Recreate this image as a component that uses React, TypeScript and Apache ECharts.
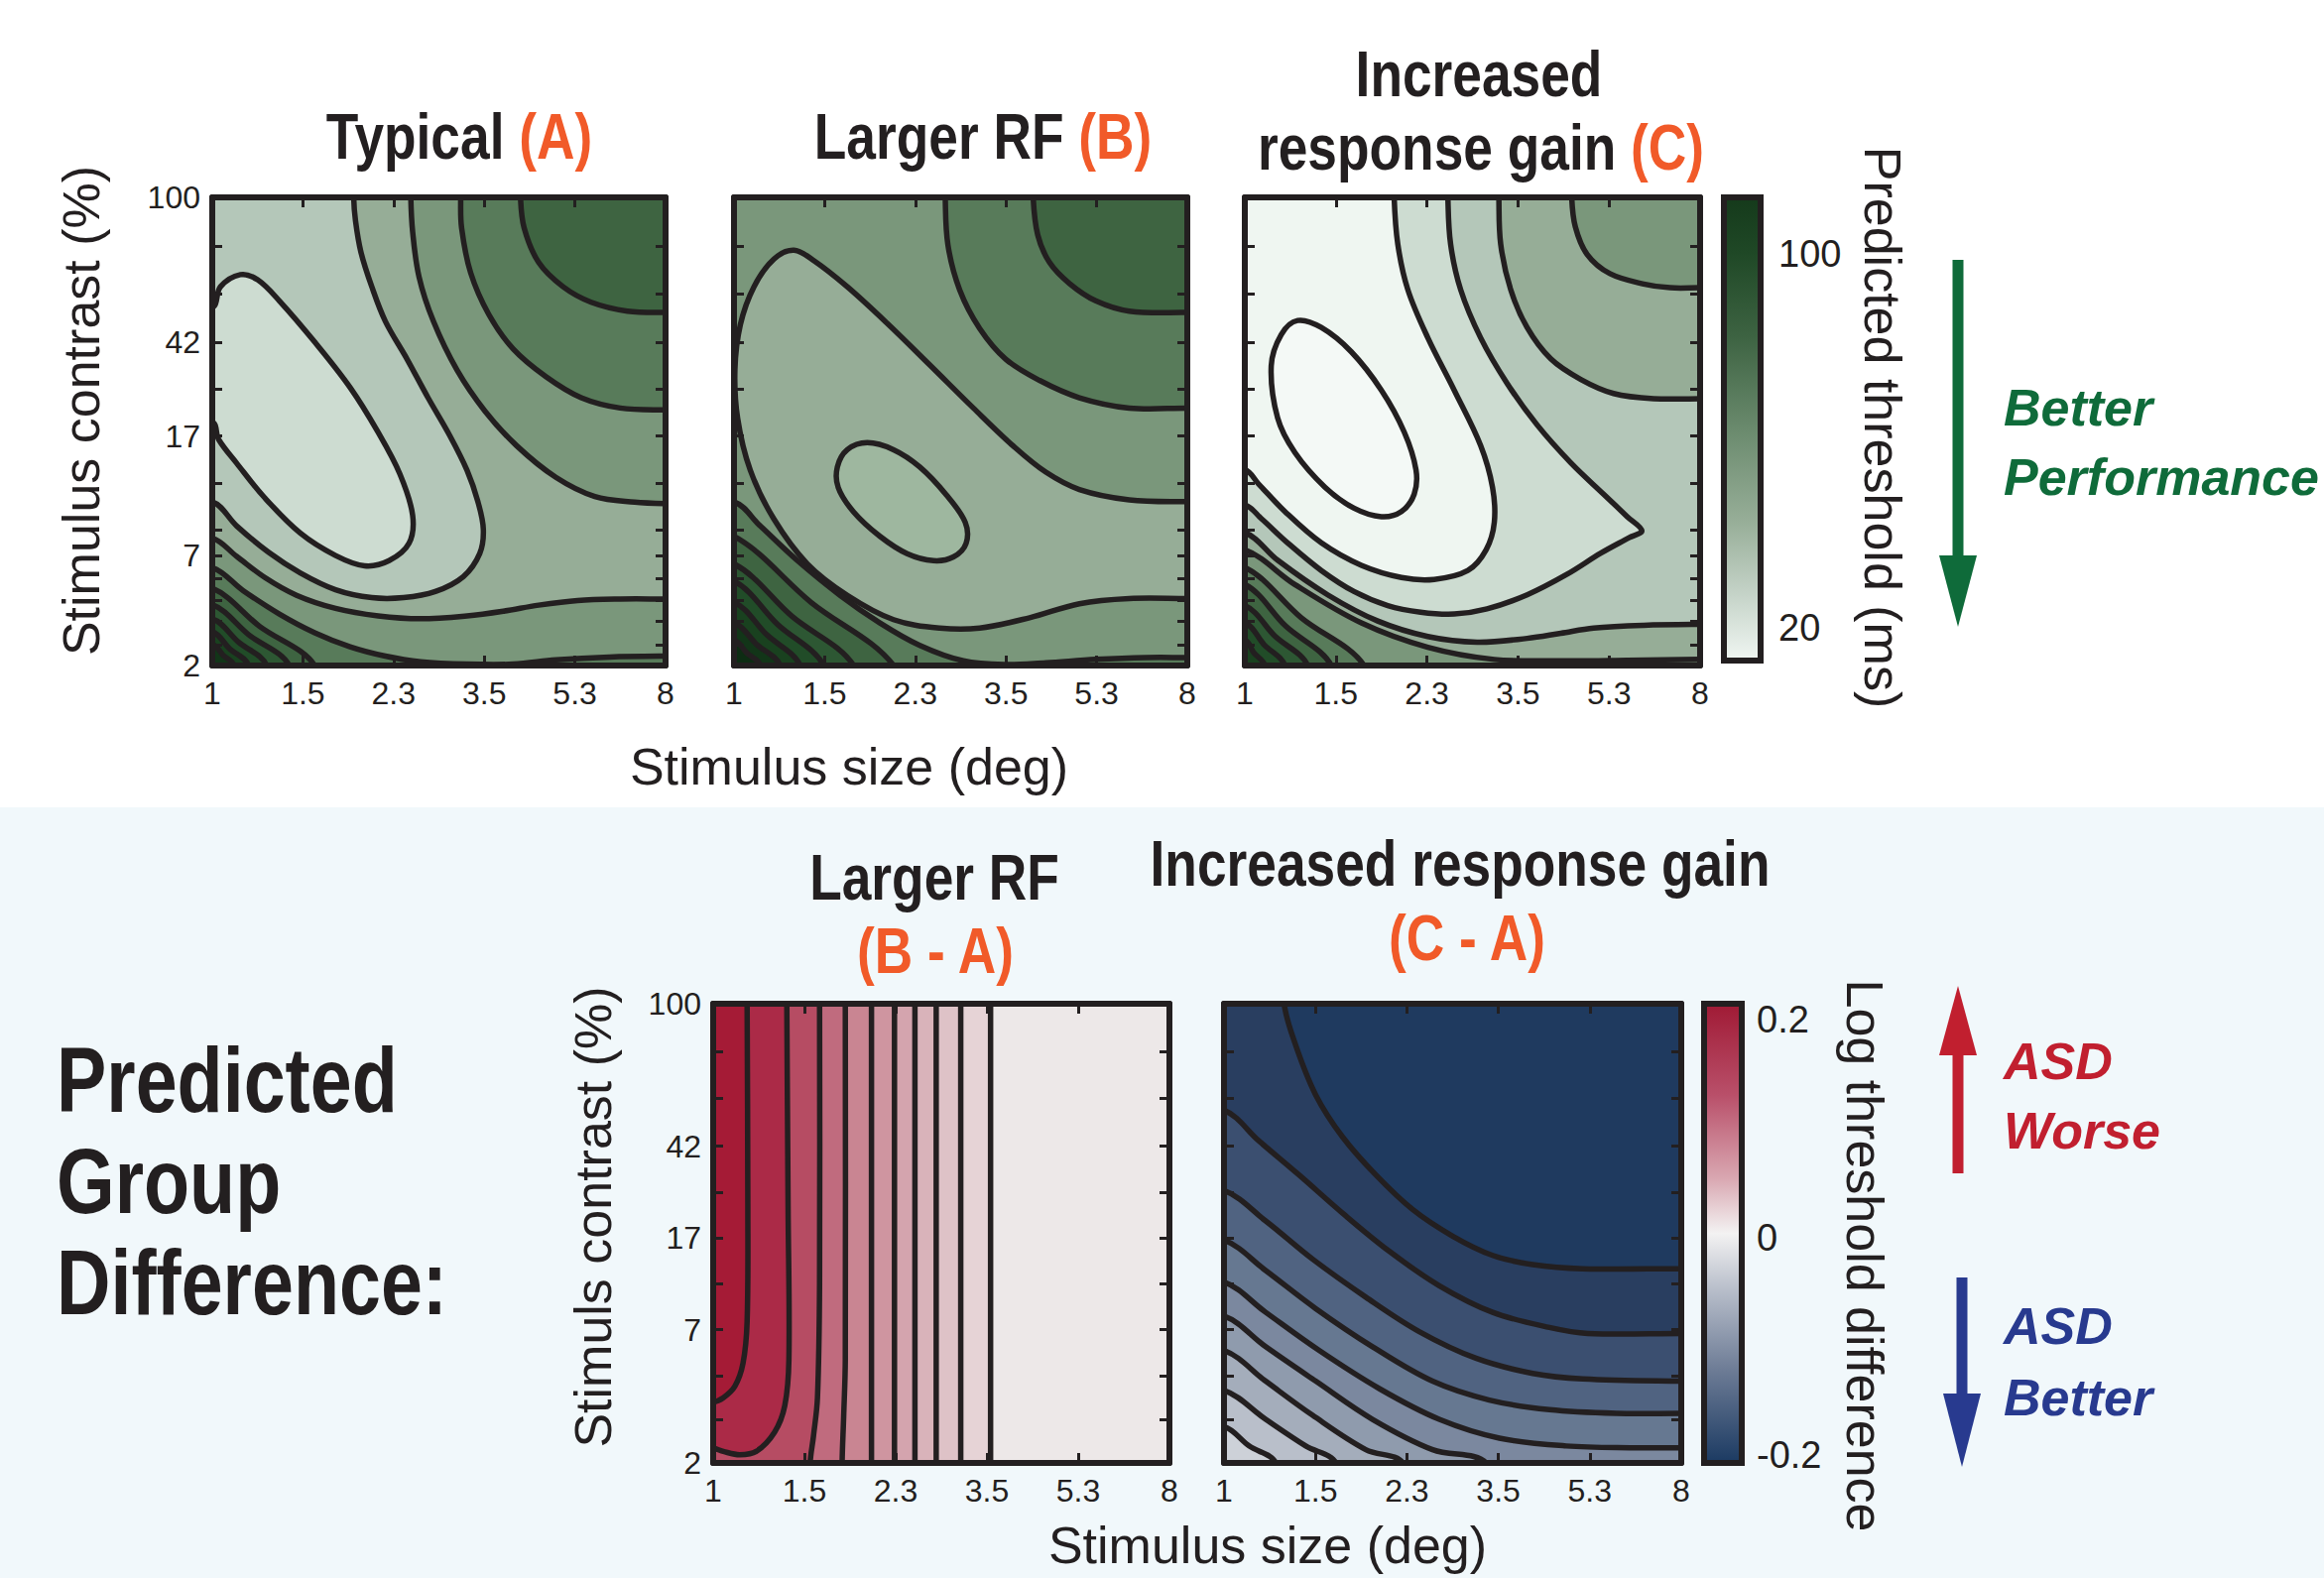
import React, { useEffect, useRef } from 'react';
import * as echarts from 'echarts';

// ---------------- data ----------------
// x axis: stimulus size, 6 log-spaced ticks (position 0..5)
const sizeTickLabels = ['1', '1.5', '2.3', '3.5', '5.3', '8'];
// y axis: stimulus contrast (axis position 0..10)
const contrastTickLabels = ['2', '7', '17', '42', '100'];
const contrastTickPosTop = [0, 2.35, 4.9, 6.9, 10];
const contrastTickPosBottom = [0, 2.9, 4.9, 6.9, 10];
const contrastMinorTop = [0.45, 0.95, 1.4, 1.85, 2.35, 2.9, 3.9, 4.9, 5.9, 6.9, 7.95, 8.95];
const contrastMinorBottom = [0.95, 1.9, 2.9, 3.9, 4.9, 5.9, 6.9, 7.95, 8.95];
const thresholdTicks = [20, 100];
const thresholdRange = [13, 112];
const diffTicks = [-0.2, 0, 0.2];
const diffRange = [-0.207, 0.215];

// Panel A: Typical — contour lines [size position, contrast position]
const typA_inner = [[0, 7.65], [0.09, 8.09], [0.31, 8.35], [0.5, 8.24], [0.74, 7.79], [1.13, 6.91], [1.52, 5.94], [1.83, 4.98], [2.07, 4.09], [2.21, 3.21], [2.17, 2.61], [1.95, 2.24], [1.68, 2.13], [1.36, 2.35], [0.97, 2.83], [0.58, 3.58], [0.27, 4.32], [0.07, 4.83], [0, 5.2]];
const typA_c2 = [[0, 3.5], [0.27, 2.98], [0.62, 2.42], [0.97, 1.98], [1.36, 1.62], [1.76, 1.45], [2.11, 1.45], [2.46, 1.58], [2.77, 1.9], [2.95, 2.39], [2.99, 2.91], [2.93, 3.5], [2.81, 4.17], [2.62, 4.91], [2.38, 5.72], [2.15, 6.54], [1.91, 7.35], [1.76, 8.09], [1.64, 8.83], [1.58, 9.5], [1.56, 10]];
const typA_c3 = [[2.19, 10], [2.21, 9.27], [2.28, 8.31], [2.44, 7.35], [2.7, 6.31], [3.01, 5.43], [3.36, 4.69], [3.79, 4.02], [4.22, 3.61], [4.66, 3.49], [5, 3.46]];
const typA_c4 = [[2.74, 10], [2.75, 9.35], [2.85, 8.39], [3.05, 7.5], [3.32, 6.76], [3.68, 6.17], [4.07, 5.72], [4.5, 5.5], [5, 5.46]];
const typA_c5 = [[3.4, 10], [3.44, 9.35], [3.6, 8.61], [3.87, 8.09], [4.18, 7.76], [4.58, 7.57], [5, 7.54]];
const typA_c6 = [[0, 2.72], [0.27, 2.33], [0.58, 1.88], [0.93, 1.5], [1.36, 1.22], [1.83, 1.06], [2.3, 1.0], [2.81, 1.06], [3.21, 1.16], [3.6, 1.29], [4.03, 1.39], [4.5, 1.42], [5, 1.42]];
const typA_c7 = [[0, 2.09], [0.34, 1.6], [0.74, 1.1], [1.13, 0.7], [1.52, 0.4], [1.91, 0.2], [2.3, 0.08], [2.81, 0.03], [3.32, 0.03], [3.79, 0.12], [4.38, 0.18], [5, 0.2]];
const typA_k1 = [[0, 1.65], [0.52, 0.84], [1.13, 0]];
const typA_k2 = [[0, 1.3], [0.4, 0.66], [0.85, 0]];
const typA_k3 = [[0, 1.0], [0.29, 0.5], [0.6, 0]];
const typA_k4 = [[0, 0.72], [0.19, 0.36], [0.4, 0]];
const typA_k5 = [[0, 0.45], [0.12, 0.22], [0.24, 0]];

// Panel B: Larger RF
const rfB_c1 = [[3.3, 10], [3.35, 9.2], [3.48, 8.61], [3.7, 8.16], [3.99, 7.79], [4.36, 7.57], [5, 7.54]];
const rfB_c2 = [[2.33, 10], [2.36, 8.98], [2.49, 8.02], [2.71, 7.2], [3.0, 6.54], [3.37, 6.09], [3.81, 5.72], [4.36, 5.5], [5, 5.5]];
const rfB_c3 = [[5, 3.5], [4.36, 3.54], [3.81, 3.76], [3.44, 4.13], [3.08, 4.69], [2.64, 5.5], [2.16, 6.42], [1.69, 7.31], [1.25, 8.09], [0.88, 8.65], [0.66, 8.87], [0.44, 8.68], [0.22, 8.09], [0.07, 7.28], [0.01, 6.32], [0.04, 5.28], [0.18, 4.17], [0.44, 3.13], [0.81, 2.17], [1.25, 1.5], [1.76, 0.98], [2.27, 0.8], [2.71, 0.8], [3.26, 1.02], [3.81, 1.32], [4.36, 1.43], [5, 1.43]];
const rfB_loop = [[1.14, 4.24], [1.25, 4.61], [1.47, 4.76], [1.76, 4.61], [2.05, 4.24], [2.34, 3.65], [2.55, 3.06], [2.56, 2.61], [2.42, 2.32], [2.2, 2.24], [1.91, 2.39], [1.61, 2.76], [1.32, 3.28], [1.15, 3.8]];
const rfB_c5 = [[0, 3.5], [0.29, 2.98], [0.7, 2.24], [1.17, 1.5], [1.61, 0.91], [2.05, 0.43], [2.53, 0.1], [3.0, 0.02], [3.44, 0.06], [3.99, 0.13], [4.54, 0.17], [5, 0.17]];
const rfB_k1 = [[0, 2.76], [0.85, 1.35], [1.76, 0]];
const rfB_k2 = [[0, 2.17], [0.64, 1.05], [1.32, 0]];
const rfB_k3 = [[0, 1.8], [0.48, 0.88], [0.99, 0]];
const rfB_k4 = [[0, 1.35], [0.36, 0.66], [0.73, 0]];
const rfB_k5 = [[0, 0.91], [0.25, 0.45], [0.51, 0]];
const rfB_k6 = [[0, 0.54], [0.14, 0.27], [0.29, 0]];

// Panel C: Increased response gain
const gainC_loop = [[0.29, 6.4], [0.4, 7.07], [0.58, 7.37], [0.84, 7.22], [1.17, 6.7], [1.5, 5.88], [1.75, 4.99], [1.88, 4.18], [1.86, 3.66], [1.72, 3.29], [1.5, 3.18], [1.2, 3.36], [0.88, 3.81], [0.55, 4.55], [0.36, 5.29]];
const gainC_c4 = [[1.64, 10], [1.68, 9.0], [1.79, 8.03], [2.01, 7.0], [2.3, 5.88], [2.59, 4.7], [2.72, 3.81], [2.74, 3.06], [2.65, 2.47], [2.45, 2.03], [2.08, 1.84], [1.72, 1.88], [1.28, 2.14], [0.84, 2.62], [0.44, 3.29], [0.15, 3.88], [0, 4.18]];
const gainC_c3 = [[2.23, 10], [2.26, 9.0], [2.37, 8.03], [2.59, 7.0], [2.88, 6.03], [3.21, 5.14], [3.58, 4.33], [3.94, 3.66], [4.2, 3.18], [4.36, 2.88], [4.22, 2.73], [3.91, 2.4], [3.54, 1.95], [3.1, 1.51], [2.66, 1.21], [2.3, 1.1], [1.93, 1.14], [1.57, 1.28], [1.2, 1.58], [0.84, 2.03], [0.47, 2.62], [0.18, 3.14], [0, 3.43]];
const gainC_c2 = [[2.79, 10], [2.81, 9.0], [2.92, 8.03], [3.1, 7.22], [3.36, 6.55], [3.69, 6.11], [4.05, 5.81], [4.49, 5.7], [5, 5.7]];
const gainC_c1 = [[3.59, 10], [3.63, 9.37], [3.76, 8.78], [4.01, 8.37], [4.38, 8.15], [4.67, 8.07], [5, 8.07]];
const gainC_c6 = [[0, 2.84], [0.36, 2.25], [0.91, 1.51], [1.46, 0.95], [2.01, 0.62], [2.55, 0.5], [3.1, 0.58], [3.47, 0.69], [3.83, 0.8], [4.38, 0.86], [5, 0.88]];
const gainC_c7 = [[0, 2.47], [0.55, 1.73], [1.28, 0.91], [2.01, 0.39], [2.74, 0.13], [3.47, 0.1], [4.2, 0.11], [5, 0.13]];
const gainC_k1 = [[0, 2.1], [0.62, 1.02], [1.31, 0]];
const gainC_k2 = [[0, 1.73], [0.45, 0.84], [0.95, 0]];
const gainC_k3 = [[0, 1.28], [0.33, 0.63], [0.69, 0]];
const gainC_k4 = [[0, 0.91], [0.21, 0.45], [0.44, 0]];
const gainC_k5 = [[0, 0.54], [0.1, 0.27], [0.22, 0]];

// Difference B - A
const diffB_c1 = [[0.372, 10], [0.38, 5.58], [0.372, 3.08], [0.327, 2.17], [0.238, 1.67], [0.112, 1.42], [0, 1.33]];
const diffB_c2 = [[0.807, 10], [0.821, 5.58], [0.83, 2.25], [0.785, 1.25], [0.673, 0.67], [0.471, 0.25], [0.291, 0.18], [0.112, 0.25], [0, 0.32]];
const diffB_c3 = [[1.166, 10], [1.166, 3.92], [1.143, 1.42], [1.099, 0.58], [1.063, 0]];
const diffB_c4 = [[1.448, 10], [1.448, 2.25], [1.43, 1.0], [1.413, 0]];
const diffB_c5 = [[1.735, 10], [1.735, 5], [1.735, 0]];
const diffB_c6 = [[1.987, 10], [1.987, 5], [1.987, 0]];
const diffB_c7 = [[2.211, 10], [2.211, 5], [2.211, 0]];
const diffB_c8 = [[2.444, 10], [2.444, 5], [2.444, 0]];
const diffB_c9 = [[2.713, 10], [2.713, 5], [2.713, 0]];
const diffB_c10 = [[3.04, 10], [3.04, 5], [3.04, 0]];

// Difference C - A
const diffC_c1 = [[0.657, 10], [0.785, 9.09], [1.004, 8.01], [1.296, 7.1], [1.661, 6.27], [2.062, 5.52], [2.5, 4.94], [2.938, 4.52], [3.376, 4.32], [3.923, 4.23], [5, 4.23]];
const diffC_c2 = [[0, 7.68], [0.383, 7.01], [0.821, 6.27], [1.296, 5.44], [1.807, 4.61], [2.354, 3.86], [2.938, 3.28], [3.558, 2.95], [3.978, 2.82], [5, 2.82]];
const diffC_c3 = [[0, 5.93], [0.456, 5.27], [0.967, 4.44], [1.551, 3.61], [2.135, 2.86], [2.755, 2.28], [3.376, 1.95], [3.923, 1.83], [5, 1.78]];
const diffC_c4 = [[0, 4.85], [0.456, 4.19], [1.004, 3.36], [1.624, 2.53], [2.281, 1.78], [2.901, 1.37], [3.558, 1.16], [4.288, 1.08], [5, 1.08]];
const diffC_c5 = [[0, 3.94], [0.456, 3.28], [1.04, 2.45], [1.697, 1.62], [2.354, 0.95], [3.011, 0.54], [3.741, 0.37], [4.471, 0.33], [5, 0.33]];
const diffC_c6 = [[0, 3.2], [0.456, 2.53], [1.004, 1.78], [1.624, 0.95], [2.281, 0.29], [2.865, 0]];
const diffC_c7 = [[0, 2.45], [0.456, 1.78], [0.967, 1.04], [1.551, 0.29], [1.953, 0]];
const diffC_c8 = [[0, 1.58], [0.456, 0.95], [0.894, 0.37], [1.223, 0]];
const diffC_c9 = [[0, 0.79], [0.274, 0.37], [0.566, 0]];

// colour scales
const G = ['#eff6f1', '#cddcd1', '#b4c7b9', '#96ad97', '#7a977b', '#587b5a', '#3e6441', '#2d5733', '#214c28', '#19411f', '#123518', '#0d2c13'];
const R = ['#a51b36', '#ab2a47', '#b64c63', '#c06b7e', '#c98592', '#cf95a0', '#d4a4ae', '#d9b3ba', '#dec2c7', '#e6d3d6', '#ede8e8'];
const B = ['#1f3a5f', '#293e60', '#3b4f70', '#506381', '#667891', '#7b889f', '#8f9bad', '#a4adbb', '#b9bfca', '#cdd1d8'];
const greenBarStops = [[0, '#153a1b'], [0.12, '#1f4826'], [0.3, '#3d6342'], [0.5, '#6a8a6d'], [0.7, '#97ae98'], [0.86, '#c6d4c9'], [1, '#f0f6f2']];
const divBarStops = [[0, '#a01a35'], [0.2, '#b9506a'], [0.38, '#d9a7b1'], [0.5, '#f3f2f2'], [0.62, '#b9bfcb'], [0.8, '#6c7b95'], [1, '#1b3a62']];

// ---------------- styling ----------------
const INK = '#231f20';
const ORANGE = '#f15a29';
const FONT = '"Liberation Sans", Arial, Helvetica, sans-serif';
const SMOOTH = 0.35;
const LW = 5.5;

type Level = { pts: number[][]; fill: string; corners: string[]; loop?: boolean };
const CORNER: Record<string, number[]> = { TL: [-1.5, 11.5], TR: [6.5, 11.5], BR: [6.5, -1.5], BL: [-1.5, -1.5] };

function extendPt(p: number[]): number[] {
  const [x, y] = p;
  if (x <= 0.001) return [x - 0.5, y];
  if (x >= 4.999) return [x + 0.5, y];
  if (y >= 9.999) return [x, y + 1];
  if (y <= 0.001) return [x, y - 1];
  return p;
}

function contourSeries(idx: number, base: string, levels: Level[]) {
  const items = [null, ...levels];
  return {
    type: 'custom',
    coordinateSystem: 'cartesian2d',
    xAxisIndex: idx * 2,
    yAxisIndex: idx * 2,
    clip: true,
    silent: true,
    encode: { x: 0, y: 1 },
    data: items.map((_, i) => [0, 0, i]),
    renderItem: (_params: any, api: any) => {
      const i = api.value(2) as number;
      const toPx = (p: number[]) => api.coord(p);
      if (i === 0) {
        const a = toPx([0, 0]);
        const b = toPx([5, 10]);
        return { type: 'rect', z2: 0, shape: { x: a[0], y: b[1], width: b[0] - a[0], height: a[1] - b[1] }, style: { fill: base, stroke: 'none' } };
      }
      const lv = levels[i - 1];
      if (lv.loop) {
        const pts = lv.pts.map(toPx);
        return {
          type: 'group',
          children: [
            { type: 'polygon', z2: i, shape: { points: pts, smooth: SMOOTH }, style: { fill: lv.fill, stroke: 'none' } },
            { type: 'polygon', z2: 500 + i, shape: { points: pts, smooth: SMOOTH }, style: { fill: 'none', stroke: INK, lineWidth: LW } },
          ],
        };
      }
      const line = [extendPt(lv.pts[0]), ...lv.pts, extendPt(lv.pts[lv.pts.length - 1])];
      const fillPts = line.concat(lv.corners.map((c) => CORNER[c])).map(toPx);
      return {
        type: 'group',
        children: [
          { type: 'polygon', z2: i, shape: { points: fillPts, smooth: SMOOTH }, style: { fill: lv.fill, stroke: 'none' } },
          { type: 'polyline', z2: 500 + i, shape: { points: line.map(toPx), smooth: SMOOTH }, style: { fill: 'none', stroke: INK, lineWidth: LW, lineJoin: 'round', lineCap: 'round' } },
        ],
      };
    },
  };
}

const panelA: Level[] = [
  { pts: typA_inner, fill: G[1], corners: [] },
  { pts: typA_c2, fill: G[3], corners: ['TR', 'BR', 'BL'] },
  { pts: typA_c3, fill: G[4], corners: ['TR'] },
  { pts: typA_c6, fill: G[4], corners: ['BR', 'BL'] },
  { pts: typA_c4, fill: G[5], corners: ['TR'] },
  { pts: typA_c7, fill: G[5], corners: ['BR', 'BL'] },
  { pts: typA_c5, fill: G[6], corners: ['TR'] },
  { pts: typA_k1, fill: G[6], corners: ['BL'] },
  { pts: typA_k2, fill: G[7], corners: ['BL'] },
  { pts: typA_k3, fill: G[8], corners: ['BL'] },
  { pts: typA_k4, fill: G[9], corners: ['BL'] },
  { pts: typA_k5, fill: G[10], corners: ['BL'] },
];
const panelB: Level[] = [
  { pts: rfB_c3, fill: G[3], corners: [] },
  { pts: rfB_loop, fill: '#9eb79f', corners: [], loop: true },
  { pts: rfB_c2, fill: G[5], corners: ['TR'] },
  { pts: rfB_c1, fill: G[6], corners: ['TR'] },
  { pts: rfB_c5, fill: G[5], corners: ['BR', 'BL'] },
  { pts: rfB_k1, fill: G[6], corners: ['BL'] },
  { pts: rfB_k2, fill: G[7], corners: ['BL'] },
  { pts: rfB_k3, fill: G[8], corners: ['BL'] },
  { pts: rfB_k4, fill: G[9], corners: ['BL'] },
  { pts: rfB_k5, fill: G[10], corners: ['BL'] },
  { pts: rfB_k6, fill: G[11], corners: ['BL'] },
];
const panelC: Level[] = [
  { pts: gainC_loop, fill: '#f4f9f6', corners: [], loop: true },
  { pts: gainC_c4, fill: G[1], corners: ['BL', 'BR', 'TR'] },
  { pts: gainC_c3, fill: G[2], corners: ['BL', 'BR', 'TR'] },
  { pts: gainC_c2, fill: G[3], corners: ['TR'] },
  { pts: gainC_c1, fill: G[4], corners: ['TR'] },
  { pts: gainC_c6, fill: G[3], corners: ['BR', 'BL'] },
  { pts: gainC_c7, fill: G[4], corners: ['BR', 'BL'] },
  { pts: gainC_k1, fill: G[5], corners: ['BL'] },
  { pts: gainC_k2, fill: G[6], corners: ['BL'] },
  { pts: gainC_k3, fill: G[7], corners: ['BL'] },
  { pts: gainC_k4, fill: G[8], corners: ['BL'] },
  { pts: gainC_k5, fill: G[9], corners: ['BL'] },
];
const panelBA: Level[] = [
  { pts: diffB_c10, fill: R[9], corners: ['BL', 'TL'] },
  { pts: diffB_c9, fill: R[8], corners: ['BL', 'TL'] },
  { pts: diffB_c8, fill: R[7], corners: ['BL', 'TL'] },
  { pts: diffB_c7, fill: R[6], corners: ['BL', 'TL'] },
  { pts: diffB_c6, fill: R[5], corners: ['BL', 'TL'] },
  { pts: diffB_c5, fill: R[4], corners: ['BL', 'TL'] },
  { pts: diffB_c4, fill: R[3], corners: ['BL', 'TL'] },
  { pts: diffB_c3, fill: R[2], corners: ['BL', 'TL'] },
  { pts: diffB_c2, fill: R[1], corners: ['TL'] },
  { pts: diffB_c1, fill: R[0], corners: ['TL'] },
];
const panelCA: Level[] = [
  { pts: diffC_c1, fill: B[1], corners: ['BR', 'BL', 'TL'] },
  { pts: diffC_c2, fill: B[2], corners: ['BR', 'BL'] },
  { pts: diffC_c3, fill: B[3], corners: ['BR', 'BL'] },
  { pts: diffC_c4, fill: B[4], corners: ['BR', 'BL'] },
  { pts: diffC_c5, fill: B[5], corners: ['BR', 'BL'] },
  { pts: diffC_c6, fill: B[6], corners: ['BL'] },
  { pts: diffC_c7, fill: B[7], corners: ['BL'] },
  { pts: diffC_c8, fill: B[8], corners: ['BL'] },
  { pts: diffC_c9, fill: B[9], corners: ['BL'] },
];

const panels = [
  { left: 214, top: 199, width: 457, height: 472, yPos: contrastTickPosTop, yMinor: contrastMinorTop, yLabels: true, base: G[2], levels: panelA },
  { left: 740, top: 199, width: 457, height: 472, yPos: contrastTickPosTop, yMinor: contrastMinorTop, yLabels: false, base: G[4], levels: panelB },
  { left: 1255, top: 199, width: 459, height: 472, yPos: contrastTickPosTop, yMinor: contrastMinorTop, yLabels: false, base: G[0], levels: panelC },
  { left: 719, top: 1012, width: 460, height: 463, yPos: contrastTickPosBottom, yMinor: contrastMinorBottom, yLabels: true, base: R[10], levels: panelBA },
  { left: 1234, top: 1012, width: 461, height: 463, yPos: contrastTickPosBottom, yMinor: contrastMinorBottom, yLabels: false, base: B[0], levels: panelCA },
];
const bars = [
  { left: 1738, top: 199, width: 37, height: 467, range: thresholdRange, ticks: thresholdTicks, stops: greenBarStops, margin: 18 },
  { left: 1718, top: 1012, width: 38, height: 463, range: diffRange, ticks: diffTicks, stops: divBarStops, margin: 15 },
];

function buildOption() {
  const grid: any[] = [];
  const xAxis: any[] = [];
  const yAxis: any[] = [];
  const series: any[] = [];
  const axisLine = { show: true, onZero: false, lineStyle: { color: INK, width: 6 } };
  const tick = { show: true, inside: true, length: 10, lineStyle: { color: INK, width: 3 } };
  const label = { color: INK, fontSize: 32, fontFamily: FONT };

  panels.forEach((p, i) => {
    grid.push({ left: p.left, top: p.top, width: p.width, height: p.height, show: false });
    const xBase = { gridIndex: i, type: 'value', min: 0, max: 5, interval: 1, splitLine: { show: false }, axisLine, axisTick: tick, z: 10 };
    xAxis.push({ ...xBase, position: 'bottom', axisLabel: { ...label, margin: 12, formatter: (v: number) => sizeTickLabels[Math.round(v)] ?? '' } });
    xAxis.push({ ...xBase, position: 'top', axisLabel: { show: false } });
    const yBase = { gridIndex: i, type: 'value', min: 0, max: 10, splitLine: { show: false }, axisLine, axisTick: { ...tick, customValues: p.yMinor }, z: 10 };
    yAxis.push({
      ...yBase,
      position: 'left',
      axisLabel: {
        ...label,
        show: p.yLabels,
        margin: 12,
        customValues: p.yPos,
        formatter: (v: number) => {
          let best = 0;
          p.yPos.forEach((q, k) => { if (Math.abs(q - v) < Math.abs(p.yPos[best] - v)) best = k; });
          return contrastTickLabels[best];
        },
      },
    });
    yAxis.push({ ...yBase, position: 'right', axisLabel: { show: false } });
    series.push(contourSeries(i, p.base, p.levels));
  });

  bars.forEach((b, j) => {
    const gi = panels.length + j;
    const ai = xAxis.length;
    grid.push({ left: b.left, top: b.top, width: b.width, height: b.height, show: false });
    xAxis.push({ gridIndex: gi, type: 'value', min: 0, max: 1, show: false });
    yAxis.push({
      gridIndex: gi, type: 'value', min: b.range[0], max: b.range[1], position: 'right',
      axisLine: { show: false }, axisTick: { show: false }, splitLine: { show: false },
      axisLabel: { color: INK, fontSize: 38, fontFamily: FONT, margin: b.margin, customValues: b.ticks, formatter: (v: number) => (Math.abs(v) < 1e-9 ? '0' : String(v)) },
    });
    series.push({
      type: 'custom', coordinateSystem: 'cartesian2d', xAxisIndex: ai, yAxisIndex: ai, silent: true,
      data: [[0, b.range[0]]],
      renderItem: (_params: any, api: any) => {
        const a = api.coord([0, b.range[0]]);
        const c = api.coord([1, b.range[1]]);
        return {
          type: 'rect',
          shape: { x: a[0], y: c[1], width: c[0] - a[0], height: a[1] - c[1] },
          style: {
            fill: new echarts.graphic.LinearGradient(0, 0, 0, 1, b.stops.map((s) => ({ offset: s[0] as number, color: s[1] as string }))),
            stroke: INK, lineWidth: 6,
          },
        };
      },
    });
  });

  const bold = (size: number) => ({ fontSize: size, fontWeight: 'bold', fontFamily: FONT });
  const title = (x: number, y: number, parts: [string, string][], size = 65, align = 'center') => ({
    type: 'text', x, y, scaleX: 0.82, silent: true,
    style: {
      text: parts.map((pt, k) => `{p${k}|${pt[0]}}`).join(''),
      align, verticalAlign: 'middle',
      ...bold(size), fill: INK,
      rich: Object.fromEntries(parts.map((pt, k) => [`p${k}`, { ...bold(size), fill: pt[1], color: pt[1] }])),
    },
  });
  const axisTitle = (x: number, y: number, text: string, rotation = 0) => ({
    type: 'text', x, y, rotation, silent: true,
    style: { text, align: 'center', verticalAlign: 'middle', fontSize: 52, fontFamily: FONT, fill: INK },
  });
  const note = (x: number, y: number, text: string, color: string) => ({
    type: 'text', x, y, silent: true,
    style: { text, align: 'left', verticalAlign: 'middle', fontSize: 52, fontWeight: 'bold', fontStyle: 'italic', fontFamily: FONT, fill: color },
  });
  const GREEN = '#0f6b3a';
  const RED = '#c11f2f';
  const BLUE = '#283a8f';
  const shaft = (x: number, y1: number, y2: number, color: string) => ({ type: 'line', silent: true, shape: { x1: x, y1, x2: x, y2 }, style: { stroke: color, lineWidth: 11 } });
  const head = (pts: number[][], color: string) => ({ type: 'polygon', silent: true, shape: { points: pts }, style: { fill: color } });

  const graphic = [
    { type: 'rect', z: -10, silent: true, shape: { x: 0, y: 814, width: 2343, height: 777 }, style: { fill: '#f1f8fb' } },
    title(463, 138, [['Typical ', INK], ['(A)', ORANGE]]),
    title(991, 138, [['Larger RF ', INK], ['(B)', ORANGE]]),
    title(1491, 75, [['Increased', INK]]),
    title(1493, 149, [['response gain ', INK], ['(C)', ORANGE]]),
    title(942, 885, [['Larger RF', INK]]),
    title(943, 959, [['(B - A)', ORANGE]]),
    title(1472, 871, [['Increased response gain', INK]]),
    title(1479, 946, [['(C - A)', ORANGE]]),
    title(57, 1089, [['Predicted', INK]], 92, 'left'),
    title(57, 1191, [['Group', INK]], 92, 'left'),
    title(57, 1293, [['Difference:', INK]], 92, 'left'),
    axisTitle(82, 414, 'Stimulus contrast (%)', Math.PI / 2),
    axisTitle(856, 773, 'Stimulus size (deg)'),
    axisTitle(1898, 431, 'Predicted threshold (ms)', -Math.PI / 2),
    axisTitle(598, 1227, 'Stimuls contrast (%)', Math.PI / 2),
    axisTitle(1278, 1558, 'Stimulus size (deg)'),
    axisTitle(1880, 1266, 'Log threshold difference', -Math.PI / 2),
    note(2020, 411, 'Better', GREEN),
    note(2020, 481, 'Performance', GREEN),
    note(2020, 1070, 'ASD', RED),
    note(2020, 1140, 'Worse', RED),
    note(2020, 1337, 'ASD', BLUE),
    note(2020, 1409, 'Better', BLUE),
    shaft(1974, 262, 566, GREEN),
    head([[1955, 560], [1993, 560], [1974, 632]], GREEN),
    shaft(1974, 1058, 1183, RED),
    head([[1955, 1064], [1993, 1064], [1974, 994]], RED),
    shaft(1978, 1288, 1411, BLUE),
    head([[1959, 1405], [1997, 1405], [1978, 1479]], BLUE),
  ];

  return { animation: false, backgroundColor: '#ffffff', textStyle: { fontFamily: FONT }, grid, xAxis, yAxis, series, graphic };
}

export default function App() {
  const ref = useRef<HTMLDivElement>(null);
  useEffect(() => {
    if (!ref.current) return;
    const chart = echarts.init(ref.current, null, { renderer: 'svg' });
    chart.setOption(buildOption() as any);
    return () => chart.dispose();
  }, []);
  return <div ref={ref} style={{ position: 'fixed', left: 0, top: 0, width: 2343, height: 1591 }} />;
}
